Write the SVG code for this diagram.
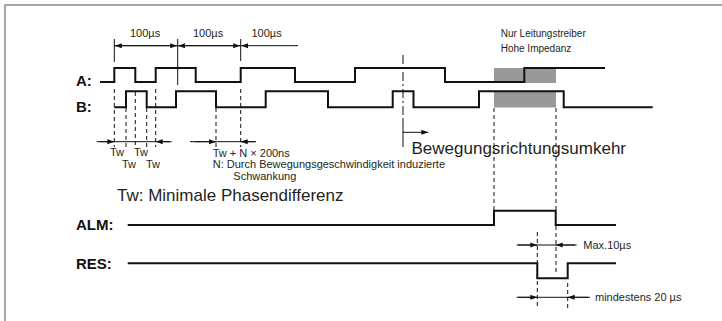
<svg xmlns="http://www.w3.org/2000/svg" width="722" height="321" viewBox="0 0 722 321">
<style>
.frame{stroke:#8a8a8a;stroke-width:1.5;fill:none}
.wave{stroke:#111;stroke-width:2;fill:none;stroke-linejoin:miter}
.thin{stroke:#111;stroke-width:1;fill:none}
.dash{stroke:#111;stroke-width:1;fill:none;stroke-dasharray:4,3}
.dashdot{stroke:#111;stroke-width:1;fill:none;stroke-dasharray:9,3,2,3}
.hiz{fill:#999}
text{font-family:"Liberation Sans",Arial,sans-serif;fill:#231f20}
.lbl{font-size:15px;font-weight:bold;fill:#111}
.s{font-size:11px}
.xs{font-size:10px}
.big{font-size:17px}
</style>
<defs>
<marker id="arr" markerWidth="7" markerHeight="6" refX="7" refY="3" orient="auto" markerUnits="userSpaceOnUse">
<path d="M0,0.5 L7,3 L0,5.5 z" fill="#111"/>
</marker>
</defs>
<g id="frame">
<path class="frame" d="M5,321 V5 H722"/>
</g>
<g id="hiz-A"><rect class="hiz" x="494" y="68" width="62" height="15"/></g>
<g id="hiz-B"><rect class="hiz" x="494" y="91.5" width="62" height="16"/></g>
<g id="signal-A">
<text class="lbl" x="76" y="86">A:</text>
<path class="wave" d="M100,82 H114.3 V68 H135.3 V82 H155.7 V68 H195.7 V82 H240.7 V68 H295 V82 H355 V68 H445 V82 H524.3 V68 H605"/>
</g>
<g id="signal-B">
<text class="lbl" x="76" y="112">B:</text>
<path class="wave" d="M114.3,107.3 H126 V91.3 H146.7 V107.3 H176 V91.3 H216 V107.3 H265.7 V91.3 H328 V107.3 H392.7 V91.3 H413.5 V107.3 H479 V91.3 H563.7 V107.3 H652.7"/>
</g>
<g id="signal-ALM">
<text class="lbl" x="76" y="230">ALM:</text>
<path class="wave" d="M127.7,225 H494 V210.7 H555.7 V225 H616"/>
</g>
<g id="signal-RES">
<text class="lbl" x="76" y="268.5">RES:</text>
<path class="wave" d="M127.7,263.3 H537.3 V278.3 H567.7 V263.3 H616"/>
</g>
<g id="connectors">
<!-- top 100us dimensions -->
<path class="thin" d="M114.3,39 V62 M240.7,39 V61 M177.7,39 V85"/>
<line class="thin" x1="114.3" y1="45.7" x2="177.2" y2="45.7" marker-end="url(#arr)"/>
<line class="thin" x1="177.7" y1="45.7" x2="114.8" y2="45.7" marker-end="url(#arr)"/>
<line class="thin" x1="177.7" y1="45.7" x2="240.2" y2="45.7" marker-end="url(#arr)"/>
<line class="thin" x1="240.7" y1="45.7" x2="178.2" y2="45.7" marker-end="url(#arr)"/>
<line class="thin" x1="298" y1="45.7" x2="241.2" y2="45.7" marker-end="url(#arr)"/>
<!-- dashed verticals -->
<path class="dash" d="M114.3,89 V147 M126,108 V147 M135.3,92 V147 M146.7,108 V147 M155.7,89 V147 M216,108 V147 M240.7,89 V147"/>
<path class="dash" d="M494,108 V210 M556,108 V210 M556,226 V274 M537.3,232 V308 M567.7,283 V308"/>
<!-- Tw dimension -->
<line class="thin" x1="96.7" y1="141.7" x2="171.7" y2="141.7"/>
<line class="thin" x1="100" y1="141.7" x2="114.3" y2="141.7" marker-end="url(#arr)"/>
<line class="thin" x1="170" y1="141.7" x2="155.7" y2="141.7" marker-end="url(#arr)"/>
<line class="thin" x1="190" y1="141.7" x2="256" y2="141.7"/>
<line class="thin" x1="195" y1="141.7" x2="216" y2="141.7" marker-end="url(#arr)"/>
<line class="thin" x1="255" y1="141.7" x2="240.7" y2="141.7" marker-end="url(#arr)"/>
<!-- direction reversal -->
<line class="dashdot" x1="403" y1="55" x2="403" y2="118"/>
<line class="thin" x1="403" y1="118" x2="403" y2="147"/>
<line class="thin" x1="403" y1="132.3" x2="428.3" y2="132.3" marker-end="url(#arr)"/>
<!-- Max 10us -->
<line class="thin" x1="516.7" y1="245" x2="576.7" y2="245"/>
<line class="thin" x1="518" y1="245" x2="537.3" y2="245" marker-end="url(#arr)"/>
<line class="thin" x1="575" y1="245" x2="555.7" y2="245" marker-end="url(#arr)"/>
<!-- min 20us -->
<line class="thin" x1="516.7" y1="297.3" x2="590" y2="297.3"/>
<line class="thin" x1="518" y1="297.3" x2="537.3" y2="297.3" marker-end="url(#arr)"/>
<line class="thin" x1="588" y1="297.3" x2="567.7" y2="297.3" marker-end="url(#arr)"/>
</g>
<g id="labels">
<text class="s" x="130" y="37">100µs</text>
<text class="s" x="193" y="37">100µs</text>
<text class="s" x="251.5" y="37">100µs</text>
<text class="xs" x="500.7" y="37">Nur Leitungstreiber</text>
<text class="xs" x="500.7" y="52">Hohe Impedanz</text>
<text class="s" x="110" y="156">Tw</text>
<text class="s" x="134" y="156">Tw</text>
<text class="s" x="122" y="168.3">Tw</text>
<text class="s" x="146" y="168.3">Tw</text>
<text class="s" x="212.7" y="156.5">Tw + N × 200ns</text>
<text class="s" x="212.7" y="168">N: Durch Bewegungsgeschwindigkeit induzierte</text>
<text class="s" x="233.3" y="179.5">Schwankung</text>
<text class="big" x="117" y="201">Tw: Minimale Phasendifferenz</text>
<text class="big" x="411.5" y="154">Bewegungsrichtungsumkehr</text>
<text class="s" x="583.3" y="249">Max.10µs</text>
<text class="s" x="595" y="301">mindestens 20 µs</text>
</g>
</svg>
